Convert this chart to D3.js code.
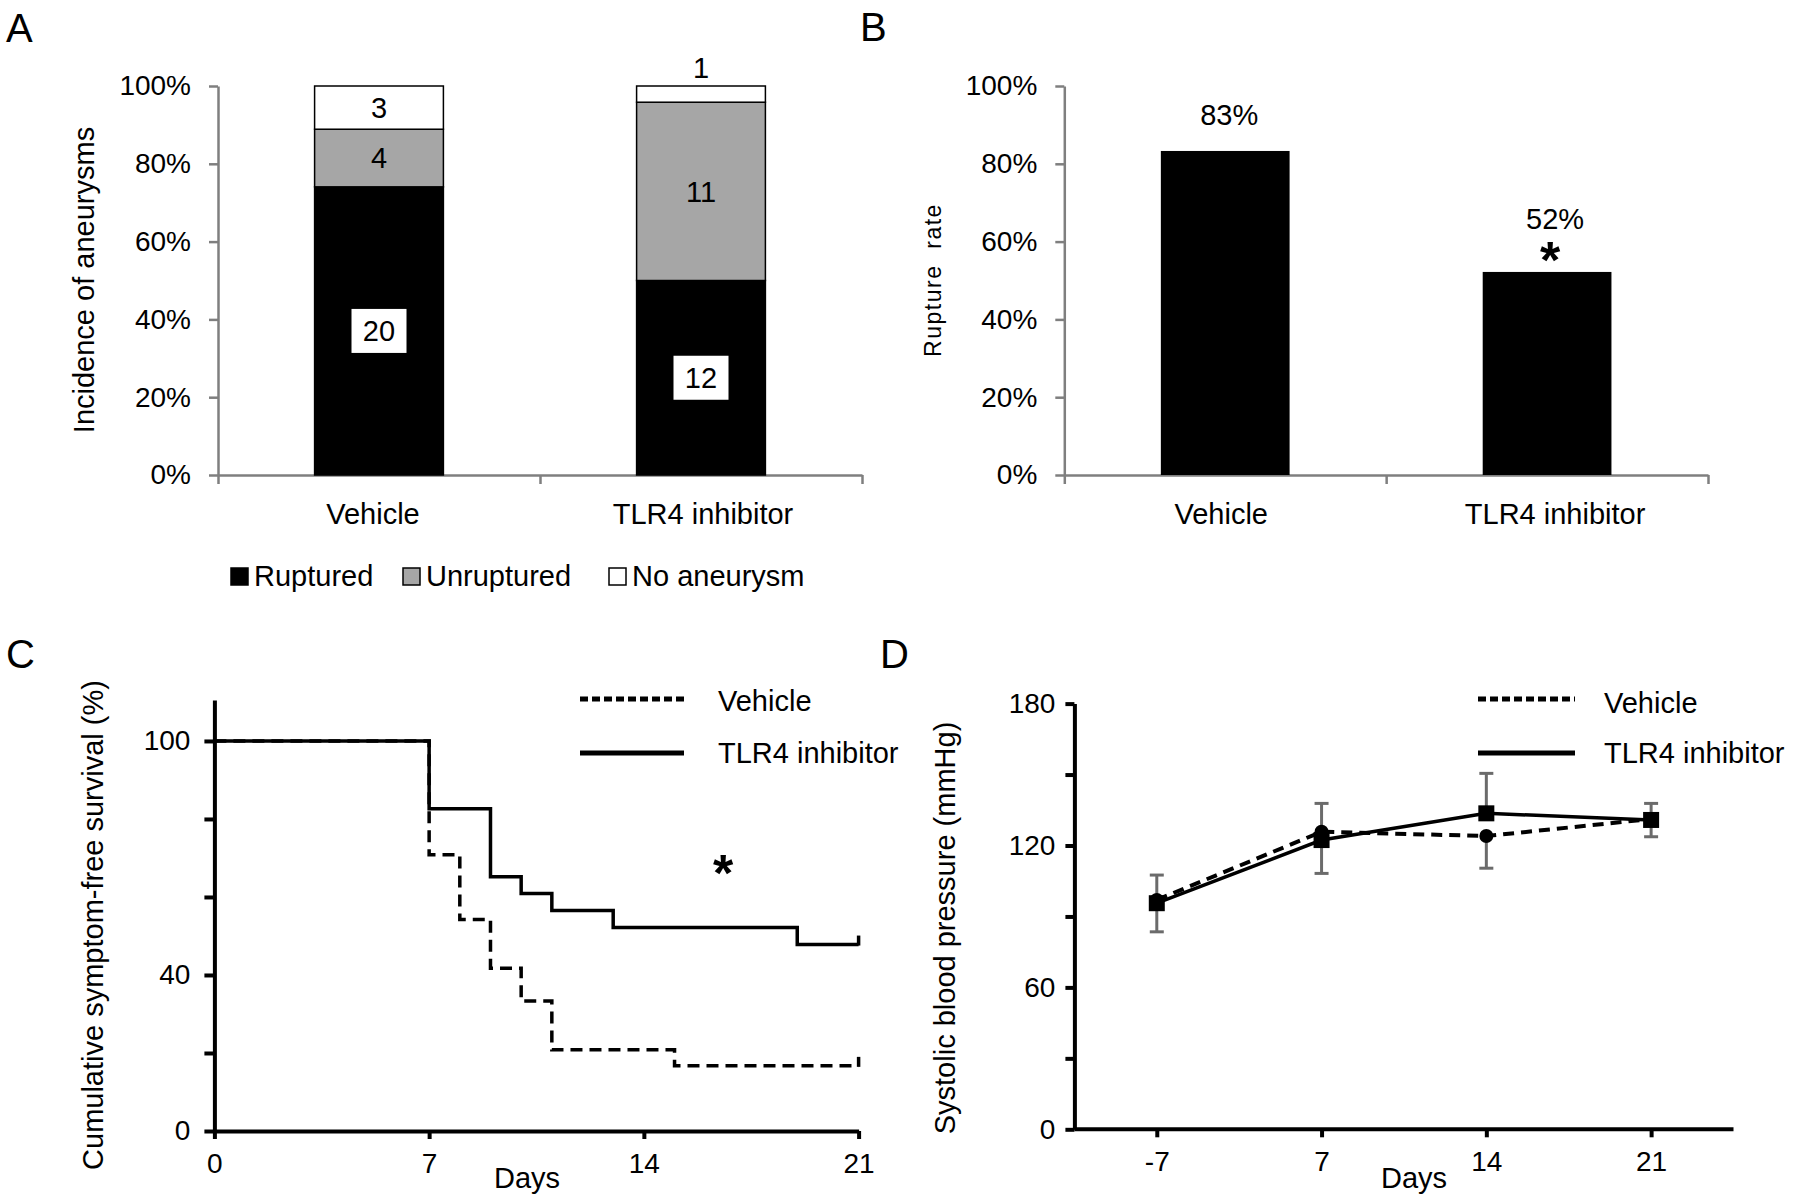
<!DOCTYPE html>
<html><head><meta charset="utf-8">
<script src="https://cdn.jsdelivr.net/npm/d3@7"></script>
<style>
body{margin:0;background:#fff;}
svg text{font-family:"Liberation Sans",Arial,Helvetica,sans-serif;fill:#000;}
</style></head><body>
<svg id="chart" width="1794" height="1202"></svg>
<script>
// ---------- Panel A data ----------
const groups = ["Vehicle", "TLR4 inhibitor"];
const ruptured = [20, 12];
const unruptured = [4, 11];
const noAneurysm = [3, 1];
const segmentNames = ["Ruptured", "Unruptured", "No aneurysm"];
const segmentColors = ["#000000", "#a6a6a6", "#ffffff"];
const pctTicks = [0, 20, 40, 60, 80, 100];
// ---------- Panel B data ----------
const ruptureRate = [83.3, 52.2];
const ruptureLabels = ["83%", "52%"];
const ruptureSig = ["", "*"];
// ---------- Panel C data ----------
const vehDays = [0, 7, 8, 9, 10, 11, 15, 21];
const vehSurvival = [100, 70.8, 54.2, 41.7, 33.3, 20.8, 16.7, 16.7];
const tlrDays = [0, 7, 9, 10, 11, 13, 19, 21];
const tlrSurvival = [100, 82.6, 65.2, 60.9, 56.5, 52.2, 47.8, 47.8];
const survXTicks = [0, 7, 14, 21];
const survYTicks = [0, 20, 40, 60, 80, 100];
const survYLabels = [0, 40, 100];
// ---------- Panel D data ----------
const bpDays = ["-7", "7", "14", "21"];
const vehBP = [97.0, 125.8, 124.0, 131.2];
const vehBPErr = [13.5, 17.6, 13.6, 7.5];
const tlrBP = [95.6, 122.3, 133.6, 130.8];
const tlrBPErr = [11.9, 15.5, 16.9, 7.0];
const bpYTicks = [0, 30, 60, 90, 120, 150, 180];
const bpYLabels = [0, 60, 120, 180];
const seriesNames = ["Vehicle", "TLR4 inhibitor"];

const svg = d3.select("#chart");
const TICK_FS = 28, LAB_FS = 29;

function letter(t, x, y) {
  svg.append("text").attr("x", x).attr("y", y).attr("font-size", 40).text(t);
}
letter("A", 6, 42); letter("B", 860, 41); letter("C", 6, 668); letter("D", 880, 668);

function styleAxis(g, color, width) {
  g.selectAll("path,line").attr("stroke", color).attr("stroke-width", width);
  g.selectAll("text").attr("font-size", TICK_FS).attr("fill", "#000")
    .attr("font-family", '"Liberation Sans",Arial,sans-serif');
}

// ================= Panel A =================
const xA = d3.scaleBand().domain(groups).range([218, 862]).paddingInner(0.6).paddingOuter(0.3);
const yA = d3.scaleLinear().domain([0, 100]).range([475, 86]);
const tableA = groups.map((g, i) => {
  const tot = ruptured[i] + unruptured[i] + noAneurysm[i];
  return {group: g, counts: [ruptured[i], unruptured[i], noAneurysm[i]],
    "Ruptured": ruptured[i] / tot * 100, "Unruptured": unruptured[i] / tot * 100,
    "No aneurysm": noAneurysm[i] / tot * 100};
});
const stackA = d3.stack().keys(segmentNames)(tableA);

const gAy = svg.append("g").attr("transform", "translate(218,0)")
  .call(d3.axisLeft(yA).tickValues(pctTicks).tickFormat(d => d + "%").tickSize(9).tickSizeOuter(0).tickPadding(18));
styleAxis(gAy, "#7f7f7f", 2.5);
const bA = d3.scaleLinear().domain([0, groups.length]).range([218, 862]);
const gAx = svg.append("g").attr("transform", "translate(0,475)")
  .call(d3.axisBottom(bA).tickValues(d3.range(groups.length + 1)).tickFormat("").tickSize(9).tickSizeOuter(0));
styleAxis(gAx, "#7f7f7f", 2.5);

stackA.forEach((layer, li) => {
  svg.append("g").selectAll("rect").data(layer).join("rect")
    .attr("x", d => xA(d.data.group)).attr("width", xA.bandwidth())
    .attr("y", d => yA(d[1])).attr("height", d => yA(d[0]) - yA(d[1]))
    .attr("fill", segmentColors[li]).attr("stroke", "#000").attr("stroke-width", 1.5);
});
stackA.forEach((layer, li) => {
  layer.forEach((d, gi) => {
    const cx = xA(d.data.group) + xA.bandwidth() / 2;
    const h = yA(d[0]) - yA(d[1]);
    const cnt = d.data.counts[li];
    let cy = (yA(d[0]) + yA(d[1])) / 2;
    if (h < 25) cy = yA(d[1]) - 18;
    if (li === 0) {
      svg.append("rect").attr("x", cx - 27.5).attr("y", cy - 22).attr("width", 55).attr("height", 44).attr("fill", "#fff");
    }
    svg.append("text").attr("x", cx).attr("y", cy).attr("dy", "0.36em").attr("text-anchor", "middle")
      .attr("font-size", LAB_FS).text(cnt);
  });
});
groups.forEach((g, i) => {
  svg.append("text").attr("x", xA(g) + xA.bandwidth() / 2 + (i === 0 ? -6 : 2)).attr("y", 524).attr("text-anchor", "middle")
    .attr("font-size", LAB_FS).text(g);
});
svg.append("text").attr("transform", "translate(94,280) rotate(-90)").attr("text-anchor", "middle")
  .attr("font-size", LAB_FS).text("Incidence of aneurysms");
// legend A
const legA = [231, 403, 609];
segmentNames.forEach((n, i) => {
  svg.append("rect").attr("x", legA[i]).attr("y", 568).attr("width", 17).attr("height", 17)
    .attr("fill", segmentColors[i]).attr("stroke", "#000").attr("stroke-width", 1.5);
  svg.append("text").attr("x", legA[i] + 23).attr("y", 586).attr("font-size", LAB_FS).text(n);
});

// ================= Panel B =================
const xB = d3.scaleBand().domain(groups).range([1064.3, 1708]).paddingInner(0.6).paddingOuter(0.3);
const yB = d3.scaleLinear().domain([0, 100]).range([475, 86]);
const gBy = svg.append("g").attr("transform", "translate(1064.3,0)")
  .call(d3.axisLeft(yB).tickValues(pctTicks).tickFormat(d => d + "%").tickSize(9).tickSizeOuter(0).tickPadding(18));
styleAxis(gBy, "#7f7f7f", 2.5);
const bB = d3.scaleLinear().domain([0, groups.length]).range([1064.3, 1708]);
const gBx = svg.append("g").attr("transform", "translate(0,475)")
  .call(d3.axisBottom(bB).tickValues(d3.range(groups.length + 1)).tickFormat("").tickSize(9).tickSizeOuter(0));
styleAxis(gBx, "#7f7f7f", 2.5);
svg.append("g").selectAll("rect").data(groups).join("rect")
  .attr("x", g => xB(g)).attr("width", xB.bandwidth())
  .attr("y", (g, i) => yB(ruptureRate[i])).attr("height", (g, i) => yB(0) - yB(ruptureRate[i]))
  .attr("fill", "#000");
groups.forEach((g, i) => {
  const cx = xB(g) + xB.bandwidth() / 2;
  const top = yB(ruptureRate[i]);
  const off = ruptureSig[i] ? 43 : 26;
  svg.append("text").attr("x", cx + (i === 0 ? 4 : 8)).attr("y", top - off).attr("text-anchor", "middle")
    .attr("font-size", LAB_FS).text(ruptureLabels[i]);
  if (ruptureSig[i]) {
    svg.append("text").attr("x", cx + 3).attr("y", top + 6).attr("text-anchor", "middle")
      .attr("font-size", 52).attr("font-weight", "bold").text(ruptureSig[i]);
  }
  svg.append("text").attr("x", cx + (i === 0 ? -4 : 8)).attr("y", 524).attr("text-anchor", "middle")
    .attr("font-size", LAB_FS).text(g);
});
svg.append("text").attr("transform", "translate(941,280) rotate(-90)").attr("text-anchor", "middle")
  .attr("font-size", 23).attr("letter-spacing", "1.5px").style("white-space", "pre").text("Rupture  rate");

// ================= Panel C =================
const xC = d3.scaleLinear().domain([0, 21]).range([214.4, 858.6]);
const yC = d3.scaleLinear().domain([0, 110.5]).range([1131, 700]);
const gCy = svg.append("g").attr("transform", "translate(214.4,0)")
  .call(d3.axisLeft(yC).tickValues(survYTicks).tickFormat(d => survYLabels.includes(d) ? d : "")
    .tickSize(10).tickSizeOuter(0).tickPadding(14));
styleAxis(gCy, "#000", 4);
const gCx = svg.append("g").attr("transform", "translate(0,1131)")
  .call(d3.axisBottom(xC).tickValues(survXTicks).tickSize(8).tickSizeOuter(0).tickPadding(14));
styleAxis(gCx, "#000", 4);

const stepLine = d3.line().x(d => xC(d[0])).y(d => yC(d[1])).curve(d3.curveStepAfter);
const tlrPts = tlrDays.map((d, i) => [d, tlrSurvival[i]]);
const vehPts = vehDays.map((d, i) => [d, vehSurvival[i]]);
svg.append("path").attr("d", stepLine(tlrPts)).attr("fill", "none").attr("stroke", "#000").attr("stroke-width", 3.5);
svg.append("path").attr("d", stepLine(vehPts)).attr("fill", "none").attr("stroke", "#000")
  .attr("stroke-width", 3.5).attr("stroke-dasharray", "12,7");
// censor marks at the end
[[tlrDays, tlrSurvival], [vehDays, vehSurvival]].forEach(([ds, ss]) => {
  const n = ds.length - 1;
  svg.append("line").attr("x1", xC(ds[n])).attr("x2", xC(ds[n]))
    .attr("y1", yC(ss[n]) + 1).attr("y2", yC(ss[n]) - 9).attr("stroke", "#000").attr("stroke-width", 3.5);
});
svg.append("text").attr("x", 723).attr("y", 891).attr("text-anchor", "middle")
  .attr("font-size", 52).attr("font-weight", "bold").text("*");
svg.append("text").attr("x", 527).attr("y", 1188).attr("text-anchor", "middle").attr("font-size", LAB_FS).text("Days");
svg.append("text").attr("transform", "translate(103,925) rotate(-90)").attr("text-anchor", "middle")
  .attr("font-size", LAB_FS).text("Cumulative symptom-free survival (%)");
// legend C
svg.append("line").attr("x1", 580).attr("x2", 684).attr("y1", 699).attr("y2", 699)
  .attr("stroke", "#000").attr("stroke-width", 5).attr("stroke-dasharray", "8,4");
svg.append("line").attr("x1", 580).attr("x2", 684).attr("y1", 753).attr("y2", 753)
  .attr("stroke", "#000").attr("stroke-width", 5);
svg.append("text").attr("x", 718).attr("y", 711).attr("font-size", LAB_FS).text(seriesNames[0]);
svg.append("text").attr("x", 718).attr("y", 763).attr("font-size", LAB_FS).text(seriesNames[1]);

// ================= Panel D =================
const xD = d3.scalePoint().domain(bpDays).range([1074.4, 1733.5]).padding(0.5);
const yD = d3.scaleLinear().domain([0, 180]).range([1129.3, 703.6]);
const gDy = svg.append("g").attr("transform", "translate(1074.4,0)")
  .call(d3.axisLeft(yD).tickValues(bpYTicks).tickFormat(d => bpYLabels.includes(d) ? d : "")
    .tickSize(9).tickSizeOuter(0).tickPadding(10));
styleAxis(gDy, "#000", 4);
const gDx = svg.append("g").attr("transform", "translate(0,1129.3)")
  .call(d3.axisBottom(xD).tickSize(8).tickSizeOuter(0).tickPadding(14));
styleAxis(gDx, "#000", 4);
gDx.select(".domain").attr("d", "M1074.4,0H1733.5");

// error bars
const errColor = "#6b6b6b";
function errBar(x, y0, y1) {
  svg.append("line").attr("x1", x).attr("x2", x).attr("y1", yD(y0)).attr("y2", yD(y1))
    .attr("stroke", errColor).attr("stroke-width", 3);
  svg.append("line").attr("x1", x - 7).attr("x2", x + 7).attr("y1", yD(y1)).attr("y2", yD(y1))
    .attr("stroke", errColor).attr("stroke-width", 3);
}
bpDays.forEach((d, i) => {
  errBar(xD(d), tlrBP[i], tlrBP[i] + tlrBPErr[i]);
  errBar(xD(d), vehBP[i], vehBP[i] - vehBPErr[i]);
});
const lineD = d3.line().x((d, i) => xD(bpDays[i])).y(d => yD(d));
svg.append("path").attr("d", lineD(vehBP)).attr("fill", "none").attr("stroke", "#000")
  .attr("stroke-width", 4).attr("stroke-dasharray", "11,7");
svg.append("path").attr("d", lineD(tlrBP)).attr("fill", "none").attr("stroke", "#000").attr("stroke-width", 3.5);
svg.append("g").selectAll("circle").data(vehBP).join("circle")
  .attr("cx", (d, i) => xD(bpDays[i])).attr("cy", d => yD(d)).attr("r", 7).attr("fill", "#000");
svg.append("g").selectAll("rect").data(tlrBP).join("rect")
  .attr("x", (d, i) => xD(bpDays[i]) - 8).attr("y", d => yD(d) - 8).attr("width", 16).attr("height", 16).attr("fill", "#000");

svg.append("text").attr("x", 1414).attr("y", 1188).attr("text-anchor", "middle").attr("font-size", LAB_FS).text("Days");
svg.append("text").attr("transform", "translate(955,928) rotate(-90)").attr("text-anchor", "middle")
  .attr("font-size", LAB_FS).text("Systolic blood pressure (mmHg)");
// legend D
svg.append("line").attr("x1", 1478).attr("x2", 1575).attr("y1", 699).attr("y2", 699)
  .attr("stroke", "#000").attr("stroke-width", 5).attr("stroke-dasharray", "8,4");
svg.append("line").attr("x1", 1478).attr("x2", 1575).attr("y1", 753).attr("y2", 753)
  .attr("stroke", "#000").attr("stroke-width", 5);
svg.append("text").attr("x", 1604).attr("y", 713).attr("font-size", LAB_FS).text(seriesNames[0]);
svg.append("text").attr("x", 1604).attr("y", 763).attr("font-size", LAB_FS).text(seriesNames[1]);
</script>
</body></html>
